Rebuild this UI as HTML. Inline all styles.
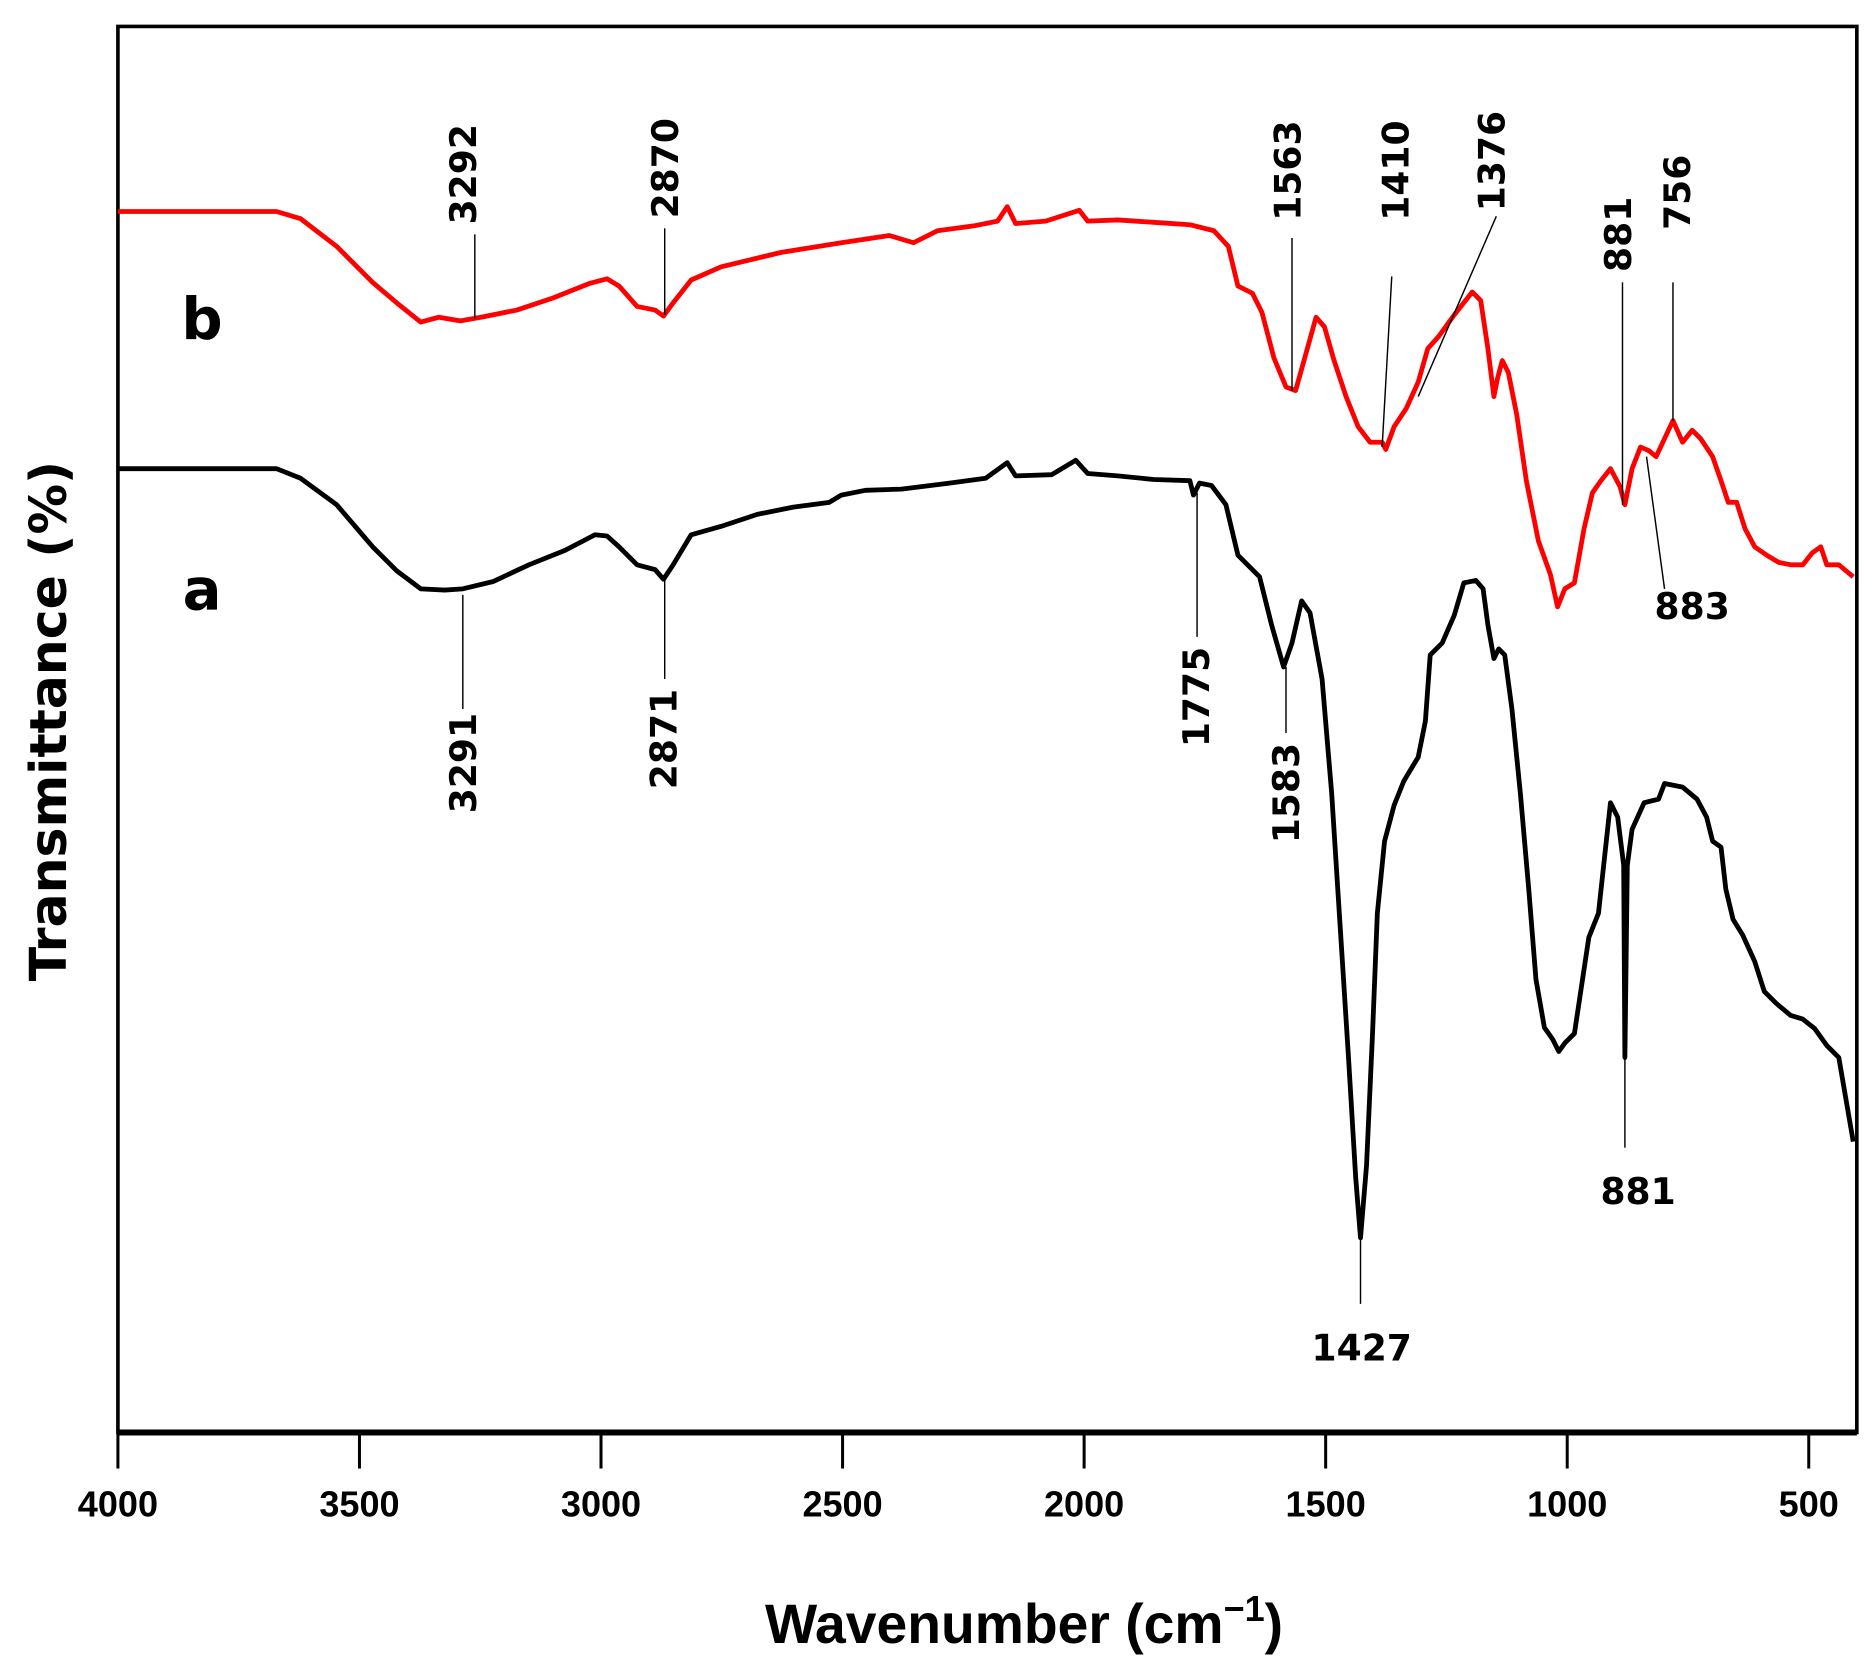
<!DOCTYPE html>
<html><head><style>html,body{margin:0;padding:0;background:#fff}svg{display:block}</style></head>
<body>
<svg width="1875" height="1662" viewBox="0 0 1560 1383" xmlns="http://www.w3.org/2000/svg">
<rect x="0" y="0" width="1560" height="1383" fill="#fff"/>
<!-- frame -->
<rect x="98" y="22" width="1447" height="1170" fill="none" stroke="#000" stroke-width="3"/>
<line x1="98" y1="1192" x2="1545" y2="1192" stroke="#000" stroke-width="5"/>
<g stroke="#000" stroke-width="2.5">
<line x1="98" y1="1192" x2="98" y2="1222"/><line x1="299" y1="1192" x2="299" y2="1222"/>
<line x1="500" y1="1192" x2="500" y2="1222"/><line x1="701" y1="1192" x2="701" y2="1222"/>
<line x1="902" y1="1192" x2="902" y2="1222"/><line x1="1103" y1="1192" x2="1103" y2="1222"/>
<line x1="1304" y1="1192" x2="1304" y2="1222"/><line x1="1505" y1="1192" x2="1505" y2="1222"/>
</g>
<g font-family="Liberation Sans, sans-serif" font-weight="bold" font-size="30" text-anchor="middle">
<text x="98" y="1262">4000</text><text x="299" y="1262">3500</text><text x="500" y="1262">3000</text>
<text x="701" y="1262">2500</text><text x="902" y="1262">2000</text><text x="1103" y="1262">1500</text>
<text x="1304" y="1262">1000</text><text x="1505" y="1262">500</text>
</g>
<text x="852" y="1367" font-family="Liberation Sans, sans-serif" font-weight="bold" font-size="46" text-anchor="middle">Wavenumber (cm<tspan font-size="30" dy="-18">−1</tspan><tspan dy="18">)</tspan></text>
<text transform="translate(55,600) rotate(-90)" font-family="DejaVu Sans, sans-serif" font-weight="bold" font-size="42" text-anchor="middle">Transmittance (%)</text>
<text x="168" y="282" font-family="DejaVu Sans, sans-serif" font-weight="bold" font-size="48" text-anchor="middle">b</text>
<text x="168" y="507" font-family="DejaVu Sans, sans-serif" font-weight="bold" font-size="48" text-anchor="middle">a</text>

<!-- red curve b -->
<polyline fill="none" stroke="#f00" stroke-width="4" stroke-linejoin="round" points="98,176 150,176 230,176 250,182 280,205 310,235 330,252 350,268 365,264 383,267 400,264 430,258 460,248 490,236 505,232 515,238 530,255 545,258 552,263 560,252 575,233 600,222 650,210 700,202 740,196 760,202 780,192 810,188 830,184 838,172 845,186 870,184 898,175 905,184 930,183 960,185 990,187 1010,192 1022,205 1030,238 1042,244 1050,260 1060,298 1070,322 1078,325 1085,300 1095,264 1102,272 1110,300 1120,330 1130,355 1140,368 1150,368 1153,374 1160,355 1170,340 1180,318 1188,290 1197,280 1210,262 1225,243 1232,250 1238,290 1243,330 1246,315 1250,300 1255,310 1262,345 1270,400 1280,450 1290,478 1296,505 1302,490 1310,485 1318,440 1325,410 1332,400 1340,390 1348,405 1352,420 1358,390 1365,372 1372,375 1378,380 1385,365 1392,350 1400,368 1408,358 1415,365 1425,380 1432,400 1438,418 1445,418 1452,440 1460,455 1470,462 1480,468 1490,470 1500,470 1508,460 1515,455 1520,470 1530,470 1542,480"/>

<!-- black curve a -->
<polyline fill="none" stroke="#000" stroke-width="4" stroke-linejoin="round" points="98,390 150,390 230,390 250,398 280,420 310,455 330,475 350,490 370,491 385,490 410,484 440,470 470,458 495,445 505,446 515,455 530,470 545,474 552,482 560,470 575,445 600,438 630,428 660,422 690,418 700,412 720,408 750,407 790,402 820,398 838,385 845,396 875,395 895,383 905,394 930,396 960,399 990,400 993,412 998,402 1008,404 1020,420 1030,462 1040,472 1048,480 1058,520 1068,555 1075,535 1083,500 1090,510 1100,565 1108,660 1115,770 1122,880 1128,980 1132,1030 1137,970 1142,860 1146,760 1152,700 1160,670 1168,650 1180,630 1186,600 1190,545 1200,535 1210,512 1218,485 1228,483 1234,490 1238,520 1243,548 1247,540 1252,545 1258,590 1265,660 1272,740 1278,815 1285,855 1292,865 1297,875 1302,868 1310,860 1316,820 1322,780 1330,760 1340,668 1346,680 1351,720 1352,880 1354,720 1358,690 1368,668 1380,665 1385,652 1400,655 1412,665 1420,680 1425,700 1432,705 1436,740 1442,765 1450,778 1460,800 1468,825 1478,835 1490,845 1500,848 1510,856 1520,870 1530,880 1542,950"/>

<!-- annotation lines -->
<g stroke="#000" stroke-width="1.2" fill="none">
<line x1="395" y1="195" x2="395" y2="265"/>
<line x1="553" y1="190" x2="553" y2="262"/>
<line x1="1075" y1="198" x2="1075" y2="325"/>
<line x1="1158" y1="230" x2="1150" y2="372"/>
<line x1="1245" y1="180" x2="1180" y2="330"/>
<line x1="1350" y1="235" x2="1350" y2="420"/>
<line x1="1392" y1="235" x2="1392" y2="350"/>
<line x1="1385" y1="490" x2="1370" y2="380"/>
<line x1="385" y1="495" x2="385" y2="590"/>
<line x1="553" y1="480" x2="553" y2="565"/>
<line x1="996" y1="410" x2="996" y2="530"/>
<line x1="1070" y1="555" x2="1070" y2="610"/>
<line x1="1132" y1="1030" x2="1132" y2="1085"/>
<line x1="1352" y1="880" x2="1352" y2="955"/>
</g>
<g font-family="DejaVu Sans, sans-serif" font-weight="bold" font-size="30" fill="#000">
<text transform="translate(396,145) rotate(-90)" text-anchor="middle">3292</text>
<text transform="translate(564,140) rotate(-90)" text-anchor="middle">2870</text>
<text transform="translate(1082,142) rotate(-90)" text-anchor="middle">1563</text>
<text transform="translate(1172,142) rotate(-90)" text-anchor="middle">1410</text>
<text transform="translate(1252,134) rotate(-90)" text-anchor="middle">1376</text>
<text transform="translate(1357,195) rotate(-90)" text-anchor="middle">881</text>
<text transform="translate(1406,160) rotate(-90)" text-anchor="middle">756</text>
<text transform="translate(396,635) rotate(-90)" text-anchor="middle">3291</text>
<text transform="translate(563,615) rotate(-90)" text-anchor="middle">2871</text>
<text transform="translate(1006,580) rotate(-90)" text-anchor="middle">1775</text>
<text transform="translate(1081,660) rotate(-90)" text-anchor="middle">1583</text>
<text x="1408" y="515" text-anchor="middle">883</text>
<text x="1133" y="1132" text-anchor="middle">1427</text>
<text x="1363" y="1002" text-anchor="middle">881</text>
</g>
</svg>
</body></html>
